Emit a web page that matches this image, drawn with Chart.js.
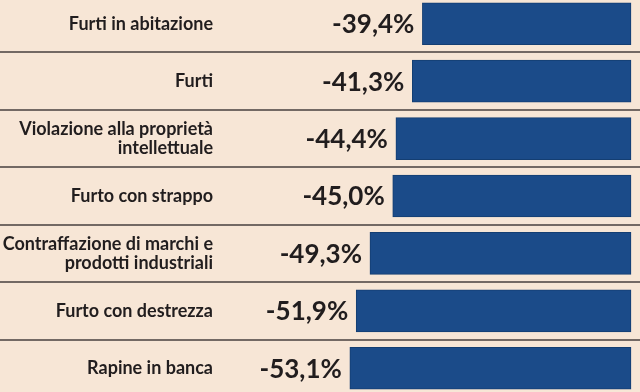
<!DOCTYPE html>
<html>
<head>
<meta charset="utf-8">
<script src="https://cdn.jsdelivr.net/npm/chart.js@4.4.1/dist/chart.umd.min.js"></script>
<style>
  html, body { margin: 0; padding: 0; background: #f7e6d6; overflow: hidden; }
  #wrap { position: absolute; left: 0; top: -5px; width: 640px; height: 402px; }
</style>
</head>
<body>
<div id="wrap"><canvas id="myChart"></canvas></div>
<script>

    const categories = [
        ['Furti in abitazione'],
        ['Furti'],
        ['Violazione alla proprietà', 'intellettuale'],
        ['Furto con strappo'],
        ['Contraffazione di marchi e', 'prodotti industriali'],
        ['Furto con destrezza'],
        ['Rapine in banca']
    ];
    const values = [-39.4, -41.3, -44.4, -45.0, -49.3, -51.9, -53.1];
    const valueLabels = ['-39,4%', '-41,3%', '-44,4%', '-45,0%', '-49,3%', '-51,9%', '-53,1%'];

    // labels on the left + value labels next to each bar
    const textPlugin = {
        id: 'rowText',
        afterDatasetsDraw(chart) {
            const ctx = chart.ctx;
            const yScale = chart.scales.y;
            const meta = chart.getDatasetMeta(0);
            ctx.save();
            ctx.fillStyle = '#211d1e';
            ctx.textBaseline = 'middle';
            ctx.textAlign = 'right';
            categories.forEach((lines, i) => {
                const yc = yScale.getPixelForValue(i);
                ctx.font = 'bold 18px Lato';
                const lh = 19;
                lines.forEach((t, k) => {
                    const y = yc + (k - (lines.length - 1) / 2) * lh;
                    ctx.fillText(t, 213, y);
                });
                const bar = meta.data[i];
                ctx.font = 'bold 26px Lato';
                ctx.fillText(valueLabels[i], bar.x - 8, yc + 1);
            });
            ctx.restore();
        }
    };

    const config = {
        type: 'bar',
        data: {
            labels: categories,
            datasets: [{
                data: values,
                backgroundColor: '#1b4b89',
                borderColor: '#143e72',
                borderWidth: 1,
                borderSkipped: false,
                barThickness: 42
            }]
        },
        options: {
            responsive: true,
            maintainAspectRatio: false,
            animation: false,
            indexAxis: 'y',
            layout: { padding: 0 },
            scales: {
                x: {
                    display: false,
                    min: -119.17,
                    max: 1.7
                },
                y: {
                    display: true,
                    ticks: { display: false },
                    border: { display: false },
                    grid: {
                        offset: true,
                        drawTicks: false,
                        color: '#736964',
                        lineWidth: 2
                    }
                }
            },
            plugins: {
                legend: { display: false },
                title: { display: false },
                tooltip: { enabled: false }
            }
        },
        plugins: [textPlugin]
    };

    const ctx = document.getElementById('myChart');

    new Chart(ctx, config);
</script>
</body>
</html>
